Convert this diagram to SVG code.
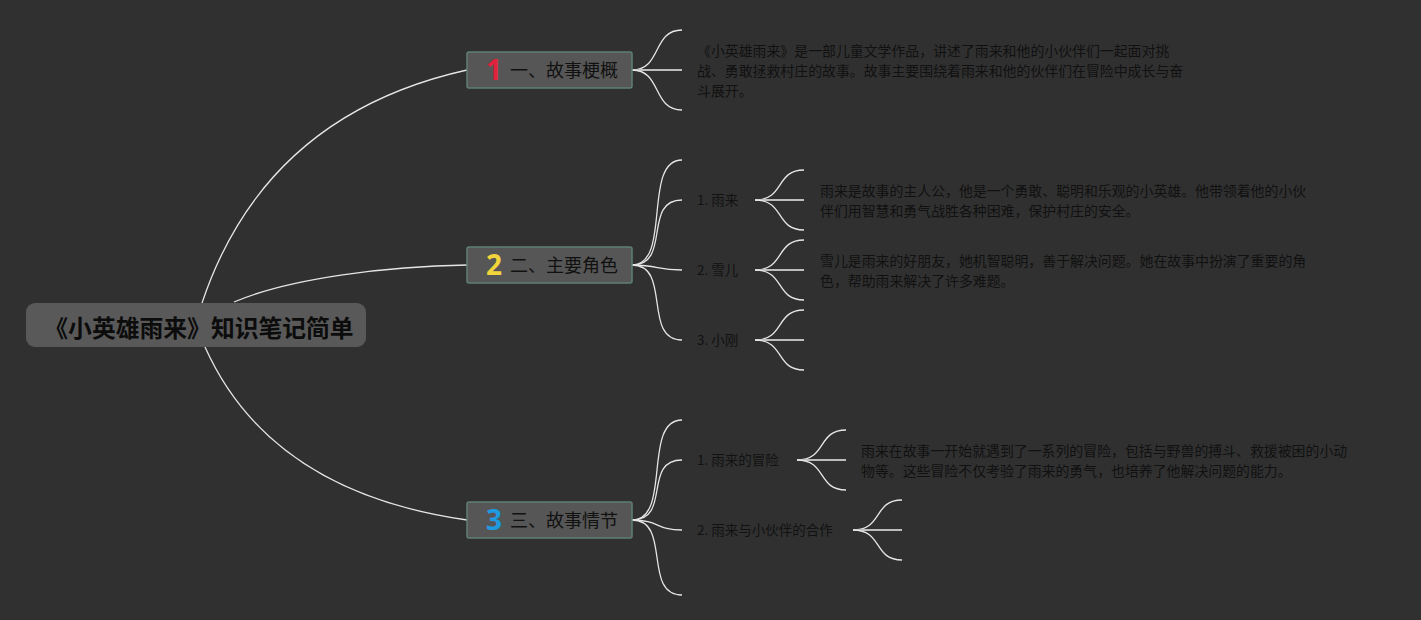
<svg xmlns="http://www.w3.org/2000/svg" width="1421" height="620" viewBox="0 0 1421 620">
<style>
.bg{fill:#303030}
.root rect{fill:#595959}
.root text{font-family:"Noto Sans CJK SC","Noto Sans",sans-serif;font-size:23.8px;font-weight:bold;fill:#0c0c0c}
.topic rect{fill:#565656;stroke:#5f8073;stroke-width:1.5}
.topic .t{font-family:"Noto Sans CJK SC","Noto Sans",sans-serif;font-size:18px;fill:#111}
.topic .n{font-family:"Noto Sans","Noto Sans CJK SC",sans-serif;font-size:28px;font-weight:bold}
.lbl{font-family:"Noto Sans CJK SC","Noto Sans",sans-serif;font-size:13.5px;fill:#121212}
.desc{font-family:"Noto Sans CJK SC","Noto Sans",sans-serif;font-size:13.9px;fill:#111}
.c{fill:none;stroke:#e6e6e6;stroke-width:1.3}
.m{fill:none;stroke:#bdbdbd;stroke-width:2}
</style>
<rect class="bg" x="0" y="0" width="1421" height="620"/>
<g id="connectors">
<path class="c" d="M202,303 Q265,115 467,70"/>
<path class="c" d="M234,302 C290,278 390,266 467,265"/>
<path class="c" d="M205,347 Q270,492 467,520"/>
<path class="c" d="M632,70 C662,70 652,30 682,30"/>
<path class="m" d="M632,70 L682,70"/>
<path class="c" d="M632,70 C662,70 652,110 682,110"/>
<path class="c" d="M632,265 C672,265 642,160 682,160"/>
<path class="c" d="M632,265 C672,265 642,200 682,200"/>
<path class="c" d="M632,265 C660,265 655,270 682,270"/>
<path class="c" d="M632,265 C672,265 642,340 682,340"/>
<path class="c" d="M755,200 C785,200 775,170 804,170"/>
<path class="m" d="M755,200 L804,200"/>
<path class="c" d="M755,200 C785,200 775,230 804,230"/>
<path class="c" d="M755,270 C785,270 775,240 804,240"/>
<path class="m" d="M755,270 L804,270"/>
<path class="c" d="M755,270 C785,270 775,300 804,300"/>
<path class="c" d="M755,340 C785,340 775,310 804,310"/>
<path class="m" d="M755,340 L804,340"/>
<path class="c" d="M755,340 C785,340 775,370 804,370"/>
<path class="c" d="M632,520 C672,520 642,420 682,420"/>
<path class="c" d="M632,520 C672,520 642,460 682,460"/>
<path class="c" d="M632,520 C660,520 655,530 682,530"/>
<path class="c" d="M632,520 C672,520 642,595 682,595"/>
<path class="c" d="M797,460 C827,460 817,430 846,430"/>
<path class="m" d="M797,460 L846,460"/>
<path class="c" d="M797,460 C827,460 817,490 846,490"/>
<path class="c" d="M853,530 C883,530 873,500 902,500"/>
<path class="m" d="M853,530 L902,530"/>
<path class="c" d="M853,530 C883,530 873,560 902,560"/>
</g>
<g id="root" class="root">
<rect x="26" y="303" width="340" height="44" rx="9"/>
<text x="199" y="337" text-anchor="middle">《小英雄雨来》知识笔记简单</text>
</g>
<g id="topic1" class="topic">
<rect x="467" y="52" width="165" height="36" rx="2"/>
<text class="n" x="494" y="80" text-anchor="middle" fill="#e0233c">1</text>
<text class="t" x="510" y="77">一、故事梗概</text>
</g>
<g id="topic2" class="topic">
<rect x="467" y="247" width="165" height="36" rx="2"/>
<text class="n" x="494" y="275" text-anchor="middle" fill="#f2d53c">2</text>
<text class="t" x="510" y="272">二、主要角色</text>
</g>
<g id="topic3" class="topic">
<rect x="467" y="502" width="165" height="36" rx="2"/>
<text class="n" x="494" y="530" text-anchor="middle" fill="#1e9ae0">3</text>
<text class="t" x="510" y="527">三、故事情节</text>
</g>
<g id="summary">
<text class="desc" x="697" y="56">《小英雄雨来》是一部儿童文学作品，讲述了雨来和他的小伙伴们一起面对挑</text>
<text class="desc" x="697" y="76">战、勇敢拯救村庄的故事。故事主要围绕着雨来和他的伙伴们在冒险中成长与奋</text>
<text class="desc" x="697" y="96">斗展开。</text>
</g>
<g id="yulai">
<text class="lbl" x="697" y="205">1. 雨来</text>
</g>
<g id="yulai-desc">
<text class="desc" x="820" y="196">雨来是故事的主人公，他是一个勇敢、聪明和乐观的小英雄。他带领着他的小伙</text>
<text class="desc" x="820" y="216">伴们用智慧和勇气战胜各种困难，保护村庄的安全。</text>
</g>
<g id="xueer">
<text class="lbl" x="697" y="275">2. 雪儿</text>
</g>
<g id="xueer-desc">
<text class="desc" x="820" y="266">雪儿是雨来的好朋友，她机智聪明，善于解决问题。她在故事中扮演了重要的角</text>
<text class="desc" x="820" y="286">色，帮助雨来解决了许多难题。</text>
</g>
<g id="xiaogang">
<text class="lbl" x="697" y="345">3. 小刚</text>
</g>
<g id="adventure">
<text class="lbl" x="697" y="465">1. 雨来的冒险</text>
</g>
<g id="adventure-desc">
<text class="desc" x="861" y="456">雨来在故事一开始就遇到了一系列的冒险，包括与野兽的搏斗、救援被困的小动</text>
<text class="desc" x="861" y="476">物等。这些冒险不仅考验了雨来的勇气，也培养了他解决问题的能力。</text>
</g>
<g id="cooperation">
<text class="lbl" x="697" y="535">2. 雨来与小伙伴的合作</text>
</g>
</svg>
